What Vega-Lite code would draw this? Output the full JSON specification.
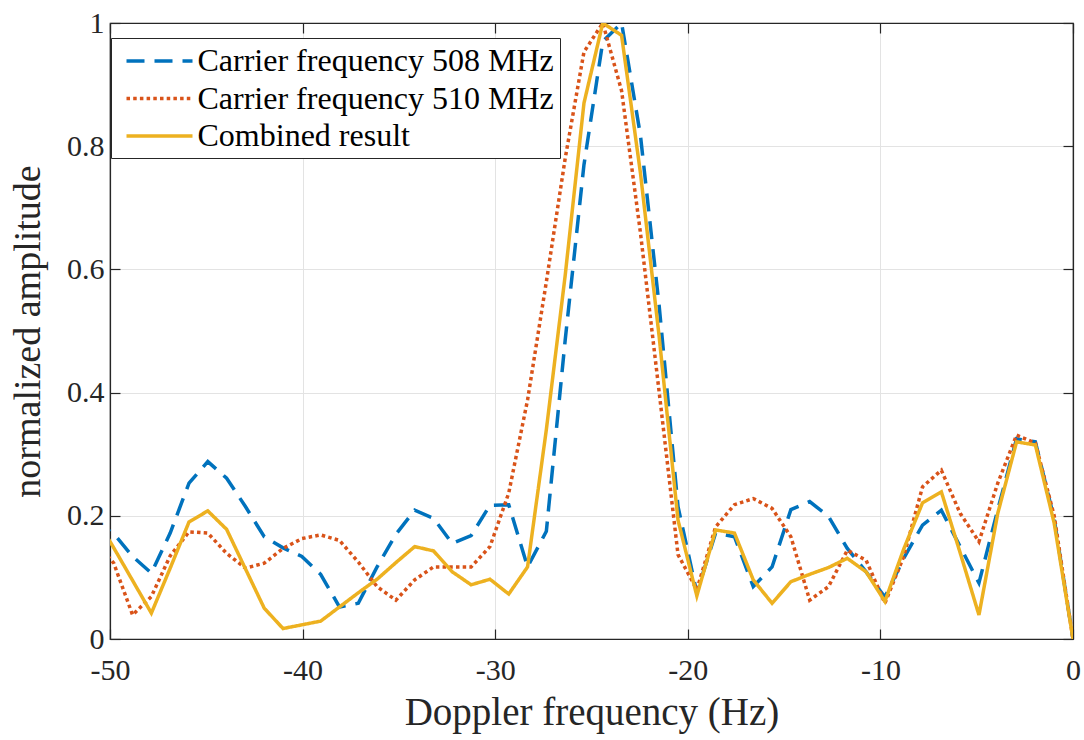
{
  "$schema": "https://vega.github.io/schema/vega-lite/v6.json",
  "width": 963,
  "height": 616,
  "autosize": {"type": "none"},
  "padding": {"left": 110, "top": 23, "right": 11, "bottom": 101},
  "background": "white",
  "config": {
    "font": "Liberation Serif, Times New Roman, Times, DejaVu Serif, serif",
    "view": {"stroke": "#262626", "strokeWidth": 1.2},
    "axis": {
      "domainColor": "#262626", "domainWidth": 1.2,
      "tickColor": "#262626", "tickSize": -10, "tickWidth": 1.2,
      "gridColor": "#e3e3e3", "gridWidth": 1,
      "labelColor": "#262626", "titleColor": "#262626",
      "labelFont": "Liberation Serif, Times New Roman, Times, DejaVu Serif, serif",
      "titleFont": "Liberation Serif, Times New Roman, Times, DejaVu Serif, serif",
      "labelFontSize": 30, "titleFontWeight": "normal", "labelFlush": false
    }
  },
  "data": {"values": [
    {"f": 0, "b508": 0, "r510": 0, "comb": 0},
    {"f": -0.977, "b508": 0.195, "r510": 0.2, "comb": 0.188},
    {"f": -1.953, "b508": 0.32, "r510": 0.318, "comb": 0.315},
    {"f": -2.930, "b508": 0.325, "r510": 0.331, "comb": 0.32},
    {"f": -3.906, "b508": 0.21, "r510": 0.253, "comb": 0.204},
    {"f": -4.883, "b508": 0.091, "r510": 0.158, "comb": 0.039},
    {"f": -5.859, "b508": 0.15, "r510": 0.204, "comb": 0.14},
    {"f": -6.836, "b508": 0.209, "r510": 0.274, "comb": 0.239},
    {"f": -7.813, "b508": 0.185, "r510": 0.247, "comb": 0.221},
    {"f": -8.789, "b508": 0.131, "r510": 0.134, "comb": 0.146},
    {"f": -9.766, "b508": 0.068, "r510": 0.058, "comb": 0.061},
    {"f": -10.742, "b508": 0.109, "r510": 0.128, "comb": 0.109},
    {"f": -11.719, "b508": 0.147, "r510": 0.144, "comb": 0.131},
    {"f": -12.695, "b508": 0.199, "r510": 0.085, "comb": 0.116},
    {"f": -13.672, "b508": 0.223, "r510": 0.063, "comb": 0.105},
    {"f": -14.648, "b508": 0.21, "r510": 0.166, "comb": 0.093},
    {"f": -15.625, "b508": 0.117, "r510": 0.212, "comb": 0.058},
    {"f": -16.602, "b508": 0.085, "r510": 0.228, "comb": 0.096},
    {"f": -17.578, "b508": 0.166, "r510": 0.218, "comb": 0.172},
    {"f": -18.555, "b508": 0.172, "r510": 0.182, "comb": 0.177},
    {"f": -19.531, "b508": 0.075, "r510": 0.08, "comb": 0.07},
    {"f": -20.508, "b508": 0.215, "r510": 0.137, "comb": 0.193},
    {"f": -21.484, "b508": 0.54, "r510": 0.40, "comb": 0.49},
    {"f": -22.461, "b508": 0.818, "r510": 0.66, "comb": 0.757},
    {"f": -23.438, "b508": 1.0, "r510": 0.89, "comb": 0.98},
    {"f": -24.414, "b508": 0.97, "r510": 1.0, "comb": 1.0},
    {"f": -25.391, "b508": 0.77, "r510": 0.953, "comb": 0.87},
    {"f": -26.367, "b508": 0.485, "r510": 0.78, "comb": 0.59},
    {"f": -27.344, "b508": 0.175, "r510": 0.58, "comb": 0.34},
    {"f": -28.320, "b508": 0.117, "r510": 0.388, "comb": 0.117},
    {"f": -29.297, "b508": 0.218, "r510": 0.237, "comb": 0.073},
    {"f": -30.273, "b508": 0.217, "r510": 0.15, "comb": 0.097},
    {"f": -31.250, "b508": 0.168, "r510": 0.117, "comb": 0.088},
    {"f": -32.227, "b508": 0.155, "r510": 0.117, "comb": 0.109},
    {"f": -33.203, "b508": 0.196, "r510": 0.117, "comb": 0.143},
    {"f": -34.180, "b508": 0.209, "r510": 0.096, "comb": 0.15},
    {"f": -35.156, "b508": 0.17, "r510": 0.063, "comb": 0.124},
    {"f": -36.133, "b508": 0.117, "r510": 0.085, "comb": 0.097},
    {"f": -37.109, "b508": 0.058, "r510": 0.125, "comb": 0.075},
    {"f": -38.086, "b508": 0.052, "r510": 0.16, "comb": 0.052},
    {"f": -39.063, "b508": 0.105, "r510": 0.169, "comb": 0.029},
    {"f": -40.039, "b508": 0.134, "r510": 0.163, "comb": 0.023},
    {"f": -41.016, "b508": 0.148, "r510": 0.147, "comb": 0.017},
    {"f": -41.992, "b508": 0.166, "r510": 0.123, "comb": 0.05},
    {"f": -42.969, "b508": 0.215, "r510": 0.115, "comb": 0.114},
    {"f": -43.945, "b508": 0.261, "r510": 0.139, "comb": 0.178},
    {"f": -44.922, "b508": 0.288, "r510": 0.172, "comb": 0.208},
    {"f": -45.898, "b508": 0.253, "r510": 0.174, "comb": 0.19},
    {"f": -46.875, "b508": 0.172, "r510": 0.135, "comb": 0.115},
    {"f": -47.852, "b508": 0.107, "r510": 0.069, "comb": 0.042},
    {"f": -48.828, "b508": 0.134, "r510": 0.039, "comb": 0.095},
    {"f": -49.805, "b508": 0.171, "r510": 0.123, "comb": 0.148},
    {"f": -50.781, "b508": 0.19, "r510": 0.16, "comb": 0.199}
  ]},
  "transform": [{"fold": ["b508", "r510", "comb"], "as": ["series", "amp"]}],
  "layer": [
    {
      "mark": {"type": "line", "clip": true, "strokeWidth": 3.5, "strokeCap": "butt", "strokeJoin": "miter"},
      "encoding": {
        "x": {"field": "f", "type": "quantitative",
          "scale": {"domain": [-50, 0], "nice": false, "zero": false},
          "axis": {"values": [-50, -40, -30, -20, -10, 0], "labelExpr": "datum.value + ''", "title": "Doppler frequency (Hz)", "grid": true, "labelPadding": 26, "titlePadding": 8, "titleFontSize": 39}},
        "y": {"field": "amp", "type": "quantitative",
          "scale": {"domain": [0, 1], "nice": false},
          "axis": {"values": [0, 0.2, 0.4, 0.6, 0.8, 1], "labelExpr": "datum.value + ''", "title": "normalized amplitude", "grid": true, "labelPadding": 16, "titlePadding": 19, "titleFontSize": 38}},
        "color": {"field": "series", "type": "nominal",
          "scale": {"domain": ["b508", "r510", "comb"], "range": ["#0072BD", "#D95319", "#EDB120"]},
          "legend": {"orient": "none", "legendX": 1, "legendY": 15, "title": null, "direction": "vertical",
            "labelExpr": "datum.value == 'b508' ? 'Carrier frequency 508 MHz' : datum.value == 'r510' ? 'Carrier frequency 510 MHz' : 'Combined result'",
            "symbolType": "M-2.2,0H2.2", "symbolSize": 900, "symbolStrokeWidth": 3.5, "symbolOffset": 25.5,
            "labelFont": "Liberation Serif, Times New Roman, Times, DejaVu Serif, serif", "labelFontSize": 32, "labelColor": "#000000", "labelLimit": 0, "labelOffset": 21,
            "strokeColor": "#262626", "fillColor": "white", "padding": 6, "rowPadding": 4.5}},
        "strokeDash": {"field": "series", "type": "nominal",
          "scale": {"domain": ["b508", "r510", "comb"], "range": [[18, 10], [3.5, 3.2], [1, 0]]},
          "legend": {"orient": "none", "legendX": 1, "legendY": 15, "title": null, "direction": "vertical",
            "labelExpr": "datum.value == 'b508' ? 'Carrier frequency 508 MHz' : datum.value == 'r510' ? 'Carrier frequency 510 MHz' : 'Combined result'",
            "symbolType": "M-2.2,0H2.2", "symbolSize": 900, "symbolStrokeWidth": 3.5, "symbolOffset": 25.5,
            "labelFont": "Liberation Serif, Times New Roman, Times, DejaVu Serif, serif", "labelFontSize": 32, "labelColor": "#000000", "labelLimit": 0, "labelOffset": 21,
            "strokeColor": "#262626", "fillColor": "white", "padding": 6, "rowPadding": 4.5}}
      }
    },
    {
      "mark": {"type": "line", "opacity": 0},
      "encoding": {
        "x": {"field": "f", "type": "quantitative", "scale": {"domain": [-50, 0], "nice": false, "zero": false},
          "axis": {"orient": "top", "values": [-50, -40, -30, -20, -10, 0], "labels": false, "title": null, "grid": false}},
        "y": {"field": "amp", "type": "quantitative", "scale": {"domain": [0, 1], "nice": false},
          "axis": {"orient": "right", "values": [0, 0.2, 0.4, 0.6, 0.8, 1], "labels": false, "title": null, "grid": false}}
      }
    }
  ],
  "resolve": {"axis": {"x": "independent", "y": "independent"}}
}
